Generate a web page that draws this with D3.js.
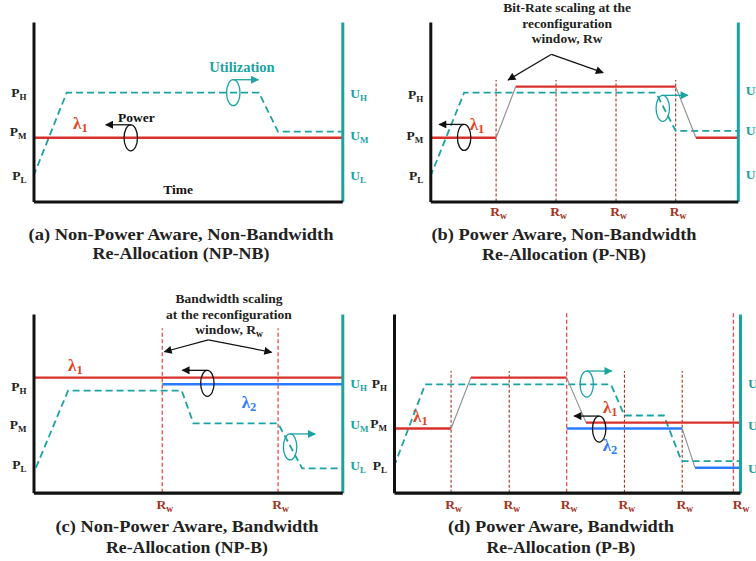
<!DOCTYPE html>
<html><head><meta charset="utf-8">
<script src="https://cdn.jsdelivr.net/npm/d3@7"></script>
<style>
body{margin:0;background:#fff}
svg{display:block}
text{font-family:"Liberation Serif","Times New Roman",serif;font-weight:bold}
</style>
</head><body>
<svg id="chart" width="756" height="561"></svg>
<script>
// ---------------- data ----------------
const levelSubs = ["H","M","L"];
// tick values (level positions, 0..100 scale) for P (left) and U (right) labels
const aPTicks = [60.3, 38.4, 14.2], aUTicks = [59.6, 36.1, 13.8];
const bPTicks = [59.3, 36.1, 13.8], bUTicks = [61.2, 38.9, 14.8];
const cPTicks = [59.0, 37.9, 15.1], cUTicks = [60.7, 37.5, 14.5];
const dPTicks = [60.6, 38.5, 15.0], dUTicks = [60.4, 37.2, 13.3];

// reconfiguration windows (time positions 0..100)
const bRw = [21.4, 40.9, 60.4, 79.8];
const cRw = [41.7, 79.2];
const dRwDark = [16.5, 33.3, 66.6, 83.3];
const dRwLight = [49.9, 98.1];
const dRwLabels = [16.5, 33.3, 49.9, 66.6, 83.3, 99.6];

// power series (lambda) [time, level]
const aPower1 = [[0,35.5],[100,35.5]];
const bPower1 = [[0,35.5],[21.4,35.5],[27.8,64.0],[79.8,64.0],[86.4,35.5],[100,35.5]];
const cPower1 = [[0,64.4],[100,64.4]];
const cPower2 = [[41.7,60.7],[100,60.7]];
const dPower1 = [[0,35.9],[16.5,35.9],[22.2,64.4],[49.9,64.4],[55.5,39.2],[100,39.2]];
const dPower2 = [[49.9,35.9],[83.3,35.9],[87.0,14.0],[100,14.0]];

// utilization series [time, level]
const aUtil = [[0,14.2],[10.75,60.6],[73.0,60.6],[79.2,38.9],[100,38.9]];
const bUtil = [[0,13.8],[11.0,60.6],[73.4,60.6],[79.8,39.3],[100,39.3]];
const cUtil = [[0.8,14.0],[11.2,57.1],[48.0,57.1],[51.8,38.8],[79.2,38.8],[87.0,13.6],[100,13.6]];
const dUtil = [[0,14.6],[9.0,60.6],[62.7,60.6],[66.6,43.2],[78.0,43.2],[83.1,17.7],[100,17.7]];

// rotation rings (ellipse center [time, level], arrow direction)
const aRings = [{x:31.5, y:35.5, dir:-1, kind:"power"}, {x:64.7, y:60.6, dir:1, kind:"util"}];
const bRings = [{x:11.0, y:35.7, dir:-1, kind:"power"}, {x:75.6, y:51.9, dir:1, kind:"util"}];
const cRings = [{x:56.3, y:61.2, dir:-1, kind:"power"}, {x:83.1, y:25.6, dir:1, kind:"util"}];
const dRings = [{x:59.3, y:35.6, dir:-1, kind:"power"}, {x:55.7, y:60.8, dir:1, kind:"util"}];

// callout arrows: apex and two targets
const bCallout = {apex:[39.4,82.0], ends:[[25.3,67.7],[56.2,71.8]]};
const cCallout = {apex:[56.6,85.5], ends:[[42.4,78.9],[77.1,78.6]]};

// texts
const aTexts = [{t:"Time", x:46.8, y:4.2, kind:"black"}, {t:"Utilization", x:67.5, y:72.3, kind:"teal"}, {t:"Power", x:33.3, y:44.5, kind:"black"}];
const aLambdas = [{sub:"1", x:12.8, y:40.2, kind:"l1"}];
const bLambdas = [{sub:"1", x:12.8, y:39.8, kind:"l1"}];
const cLambdas = [{sub:"1", x:11.2, y:68.1, kind:"l1"}, {sub:"2", x:67.4, y:47.2, kind:"l2"}];
const dLambdas = [{sub:"1", x:5.5, y:39.7, kind:"l1"}, {sub:"1", x:60.4, y:44.4, kind:"l1"}, {sub:"2", x:60.3, y:23.5, kind:"l2"}];
const bNote = ["Bit-Rate scaling at the", "reconfiguration", "window, Rw"];
const bNoteY = [105.6, 96.9, 88.3];
const cNote = ["Bandwidth scaling", "at the reconfiguration", "window, R"];
const cNoteY = [106.0, 97.3, 88.6];
const captions = [
  ["(a) Non-Power Aware, Non-Bandwidth", "Re-Allocation (NP-NB)"],
  ["(b) Power Aware, Non-Bandwidth", "Re-Allocation (P-NB)"],
  ["(c) Non-Power Aware, Bandwidth", "Re-Allocation (NP-B)"],
  ["(d) Power Aware, Bandwidth", "Re-Allocation (P-B)"]
];

// ---------------- styles ----------------
const RED = "#d9302b", TEAL = "#1ba3a3", BLUE = "#2a7bff", DARKRED = "#a3341f",
      LIGHTRED = "#ee4a4a", LAMBDA1 = "#e0461e", GRAY = "#8c8c8c";
const kindColor = {black:"#111", teal:TEAL, l1:LAMBDA1, l2:BLUE, power:"#111", util:TEAL};

const svg = d3.select("#chart");
const defs = svg.append("defs");
function marker(id, color) {
  defs.append("marker").attr("id", id).attr("viewBox", "0 0 10 10")
    .attr("refX", 9).attr("refY", 5).attr("markerWidth", 9).attr("markerHeight", 8)
    .attr("markerUnits", "userSpaceOnUse").attr("orient", "auto")
    .append("path").attr("d", "M0,0L10,5L0,10Z").attr("fill", color);
}
marker("arrK", "#111");
marker("arrT", TEAL);

const layouts = [
  {x0:33.5, x1:342.3, yb:201.5, yt:22, cx:181, capY:[240,259], capW:[305,177]},
  {x0:430.3, x1:737.8, yb:201.5, yt:22, cx:564, capY:[240,260], capW:[265,164]},
  {x0:33.5, x1:342.3, yb:492.7, yt:314, cx:187, capY:[532,553], capW:[263,162]},
  {x0:394, x1:740, yb:492.7, yt:314, cx:561, capY:[532,553], capW:[226,149]}
];

function subText(sel, main, sub, mainSize, subSize, shift) {
  sel.text(null);
  sel.append("tspan").attr("font-size", mainSize).text(main);
  sel.append("tspan").attr("font-size", subSize).attr("dy", shift).text(sub);
}

function drawPanel(i, cfg) {
  const L = layouts[i];
  const x = d3.scaleLinear().domain([0,100]).range([L.x0, L.x1]);
  const y = d3.scaleLinear().domain([0,100]).range([L.yb, L.yt]);
  const g = svg.append("g");

  // reconfiguration window lines
  (cfg.vlines || []).forEach(v => {
    g.selectAll(null).data(v.data).join("line")
      .attr("x1", d => x(d)).attr("x2", d => x(d))
      .attr("y1", y(0)).attr("y2", y(v.top))
      .attr("stroke", v.light ? LIGHTRED : DARKRED)
      .attr("stroke-width", v.light ? 1.3 : 1.1)
      .attr("stroke-dasharray", v.light ? "4,2.5" : "3,2");
  });

  // utilization (dashed teal)
  const line = d3.line().x(d => x(d[0])).y(d => y(d[1]));
  g.append("path").datum(cfg.util).attr("d", line)
    .attr("fill", "none").attr("stroke", TEAL).attr("stroke-width", 1.8)
    .attr("stroke-dasharray", "7,4");

  // power series: flat parts coloured, transitions grey
  cfg.power.forEach(p => {
    const segs = d3.pairs(p.data);
    g.selectAll(null).data(segs).join("line")
      .attr("x1", d => x(d[0][0])).attr("y1", d => y(d[0][1]))
      .attr("x2", d => x(d[1][0])).attr("y2", d => y(d[1][1]))
      .attr("stroke", d => d[0][1] === d[1][1] ? p.color : GRAY)
      .attr("stroke-width", d => d[0][1] === d[1][1] ? 2.4 : 1.1);
  });

  // rings with arrows
  const rx = 6.7, ry = 13, alen = 25;
  cfg.rings.forEach(r => {
    const col = kindColor[r.kind];
    g.append("ellipse").attr("cx", x(r.x)).attr("cy", y(r.y)).attr("rx", rx).attr("ry", ry)
      .attr("fill", "none").attr("stroke", col).attr("stroke-width", 1.3);
    g.append("line").attr("x1", x(r.x)).attr("y1", y(r.y) - ry)
      .attr("x2", x(r.x) + r.dir * alen).attr("y2", y(r.y) - ry)
      .attr("stroke", col).attr("stroke-width", 1.3)
      .attr("marker-end", r.kind === "util" ? "url(#arrT)" : "url(#arrK)");
  });

  // callout arrows
  if (cfg.callout) {
    cfg.callout.ends.forEach(e => {
      g.append("line").attr("x1", x(cfg.callout.apex[0])).attr("y1", y(cfg.callout.apex[1]))
        .attr("x2", x(e[0])).attr("y2", y(e[1]))
        .attr("stroke", "#111").attr("stroke-width", 1.2).attr("marker-end", "url(#arrK)");
    });
  }
  if (cfg.note) {
    cfg.note.forEach((t, k) => {
      const tx = g.append("text").attr("x", x(cfg.noteX)).attr("y", y(cfg.noteY[k]))
        .attr("text-anchor", "middle").attr("font-size", 13.5).attr("fill", "#222");
      if (cfg.noteSub && k === cfg.note.length - 1) subText(tx, t, "w", 13.5, 9.5, 3);
      else tx.text(t);
    });
  }

  // plain texts
  (cfg.texts || []).forEach(t => {
    g.append("text").attr("x", x(t.x)).attr("y", y(t.y)).attr("text-anchor", "middle")
      .attr("font-size", t.t === "Utilization" ? 14.5 : 13.5).attr("fill", kindColor[t.kind]).text(t.t);
  });
  // lambdas
  cfg.lambdas.forEach(l => {
    const tx = g.append("text").attr("x", x(l.x)).attr("y", y(l.y)).attr("fill", kindColor[l.kind]);
    subText(tx, "λ", l.sub, 17, 12.5, 3);
  });

  // axes
  const left = g.append("g").attr("transform", `translate(${L.x0},0)`)
    .call(d3.axisLeft(y).tickValues(cfg.pTicks).tickSize(0).tickSizeOuter(0).tickPadding(7));
  left.select(".domain").attr("stroke", "#111").attr("stroke-width", 3);
  left.selectAll(".tick text").attr("fill", "#222").attr("font-family", null)
    .each(function(d, k) { subText(d3.select(this), "P", levelSubs[k], 13.5, 9, 3); });

  const right = g.append("g").attr("transform", `translate(${L.x1},0)`)
    .call(d3.axisRight(y).tickValues(cfg.uTicks).tickSize(0).tickSizeOuter(0).tickPadding(8));
  right.select(".domain").attr("stroke", TEAL).attr("stroke-width", 3);
  right.selectAll(".tick text").attr("fill", TEAL).attr("font-family", null)
    .each(function(d, k) { subText(d3.select(this), "U", levelSubs[k], 13.5, 9, 3); });

  const bottom = g.append("g").attr("transform", `translate(0,${L.yb})`)
    .call(d3.axisBottom(x).tickValues(cfg.rwLabels || []).tickSize(0).tickSizeOuter(0).tickPadding(cfg.rwPad || 8));
  bottom.select(".domain").attr("stroke", "#111").attr("stroke-width", 3.2);
  bottom.selectAll(".tick text").attr("fill", DARKRED).attr("font-family", null).attr("dx", 2)
    .each(function() { subText(d3.select(this), "R", "w", 13.5, 9.5, 3); });

  // caption
  captions[i].forEach((c, k) => {
    g.append("text").attr("x", L.cx).attr("y", L.capY[k]).attr("text-anchor", "middle")
      .attr("font-size", 16).attr("fill", "#222")
      .attr("textLength", L.capW[k]).attr("lengthAdjust", "spacingAndGlyphs").text(c);
  });
}

drawPanel(0, {util:aUtil, power:[{data:aPower1, color:RED}], rings:aRings,
  texts:aTexts, lambdas:aLambdas, pTicks:aPTicks, uTicks:aUTicks});
drawPanel(1, {util:bUtil, power:[{data:bPower1, color:RED}], rings:bRings,
  vlines:[{data:bRw, top:67.7}], rwLabels:bRw, rwPad:7,
  callout:bCallout, note:bNote, noteX:44.5, noteY:bNoteY,
  lambdas:bLambdas, pTicks:bPTicks, uTicks:bUTicks});
drawPanel(2, {util:cUtil, power:[{data:cPower1, color:RED},{data:cPower2, color:BLUE}], rings:cRings,
  vlines:[{data:cRw, top:92.0, light:true}], rwLabels:cRw, rwPad:9,
  callout:cCallout, note:cNote, noteX:63.3, noteY:cNoteY, noteSub:true,
  lambdas:cLambdas, pTicks:cPTicks, uTicks:cUTicks});
drawPanel(3, {util:dUtil, power:[{data:dPower1, color:RED},{data:dPower2, color:BLUE}], rings:dRings,
  vlines:[{data:dRwDark, top:68.1},{data:dRwLight, top:100.4, light:true}], rwLabels:dRwLabels, rwPad:9,
  lambdas:dLambdas, pTicks:dPTicks, uTicks:dUTicks});
</script>
</body></html>
